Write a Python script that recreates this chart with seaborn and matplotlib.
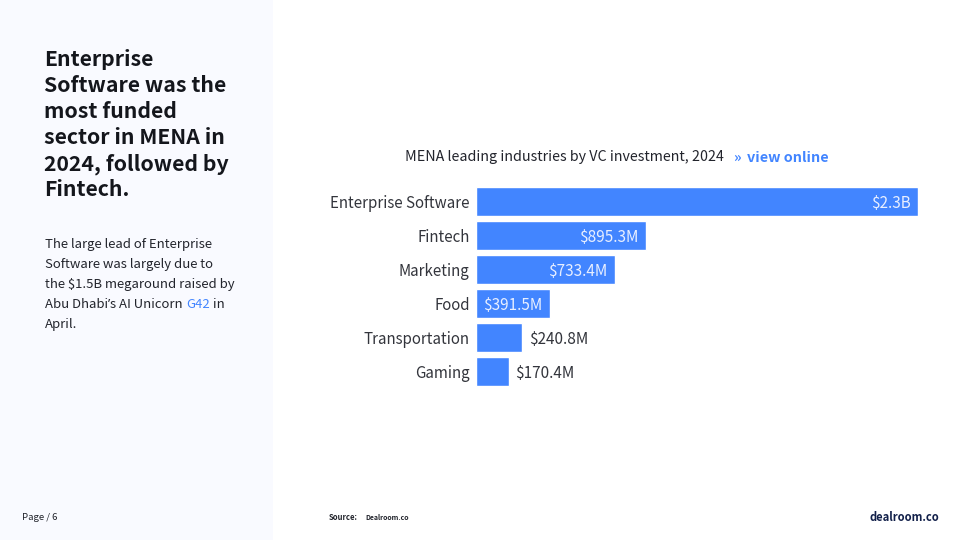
import matplotlib
matplotlib.use("Agg")
import matplotlib.pyplot as plt
from matplotlib.patches import Rectangle
from matplotlib.transforms import Affine2D
import pandas as pd
import seaborn as sns

industries = ["Enterprise Software", "Fintech", "Marketing", "Food", "Transportation", "Gaming"]
investment_musd = [2336, 895.3, 733.4, 391.5, 240.8, 170.4]
value_labels = ["$2.3B", "$895.3M", "$733.4M", "$391.5M", "$240.8M", "$170.4M"]
inside_bar = [True, True, True, True, False, False]
headline = ["Enterprise", "Software was the", "most funded", "sector in MENA in", "2024, followed by", "Fintech."]
chart_title = "MENA leading industries by VC investment, 2024"

BLUE = "#4285ff"
INK = "#22242c"
FONT = ["Noto Sans CJK SC", "DejaVu Sans"]

sns.set_theme(style="white")
plt.rcParams["font.family"] = FONT

W, H = 960, 540
fig = plt.figure(figsize=(9.6, 5.4), dpi=100, facecolor="white")
px = Affine2D().scale(1, -1).translate(0, H)  # pixel coordinates, y downward


def txt(x, y, s, size, color=INK, weight="normal", ha="left", family=None):
    return fig.text(x, y, s, transform=px, fontsize=size, color=color,
                    fontweight=weight, ha=ha, va="center_baseline", family=family or FONT)


fig.add_artist(Rectangle((0, 0), 273, H, transform=px, facecolor="#f9faff", edgecolor="none"))

# Left panel
for i, line in enumerate(headline):
    txt(44.5, 57.5 + 26 * i, line, 15.3, color="#14161c", weight="bold")

body_size = 9.45
txt(45, 243, "The large lead of Enterprise", body_size)
txt(45, 263, "Software was largely due to", body_size)
txt(45, 283, "the $1.5B megaround raised by", body_size)
txt(45, 323, "April.", body_size)

fig.canvas.draw()
r = fig.canvas.get_renderer()
cur = 45
for s, col, fam, gap in [("Abu Dhabi", INK, None, 0), ("’", INK, ["Noto Sans"], 0),
                         ("s AI Unicorn", INK, None, 3), ("G42", BLUE, None, 3), ("in", INK, None, 0)]:
    p = txt(cur, 303, s, body_size, color=col, family=fam)
    cur = p.get_window_extent(r).x1 + gap

# Chart
ax = fig.add_axes([476.4 / W, 1 - 388.5 / H, 441.6 / W, 204 / H])
df = pd.DataFrame({"industry": industries, "value": investment_musd})
sns.barplot(data=df, y="industry", x="value", color=BLUE, saturation=1, width=28.6 / 34, ax=ax)
ax.set_xlim(0, max(investment_musd))
ax.set_ylim(5.5, -0.5)
ax.set_xlabel("")
ax.set_ylabel("")
ax.set_xticks([])
ax.patch.set_alpha(0)
sns.despine(ax=ax, left=True, bottom=True)
ax.tick_params(axis="y", length=0, pad=4.9, labelsize=10.85, labelcolor="#33353c")

for i, (v, lab, ins) in enumerate(zip(investment_musd, value_labels, inside_bar)):
    if ins:
        ax.annotate(lab, (v, i), xytext=(-5.5, 0), textcoords="offset points", ha="right",
                    va="center_baseline", color="#e8efff", fontsize=11)
    else:
        ax.annotate(lab, (v, i), xytext=(5, 0), textcoords="offset points", ha="left",
                    va="center_baseline", color="#33353c", fontsize=11)

txt(405, 156, chart_title, 10.27)
txt(733, 156, "»", 10.3, color=BLUE, weight="bold")
txt(747, 156, "view online", 10.35, color=BLUE, weight="bold")

# Footer
txt(22, 517, "Page / 6", 6.9)
txt(329, 517, "Source:", 5.5, weight="bold")
txt(365, 517, "Dealroom.co", 5.0, weight="bold")
txt(870, 516, "dealroom.co", 8.0, color="#12204a", weight="bold")

fig.savefig("out.png", dpi=100)
